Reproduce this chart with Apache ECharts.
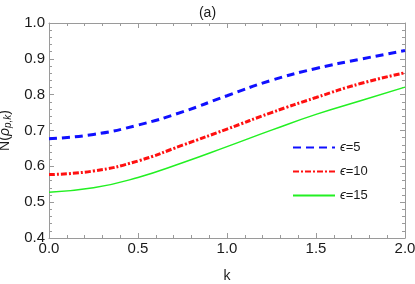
<!DOCTYPE html>
<html><head><meta charset="utf-8">
<script src="https://cdn.jsdelivr.net/npm/echarts@6/dist/echarts.min.js"></script>
<style>html,body{margin:0;padding:0;background:#fff}#c{width:415px;height:284px}</style>
</head><body><div id="c"></div>
<script>
var kValues = [0, 0.25, 0.5, 0.75, 1.0, 1.25, 1.5, 1.75, 2.0];
var eps5 = [0.677, 0.689, 0.715, 0.752, 0.797, 0.840, 0.873, 0.899, 0.923];
var eps10 = [0.577, 0.587, 0.615, 0.659, 0.704, 0.750, 0.792, 0.831, 0.861];
var eps15 = [0.528, 0.540, 0.569, 0.610, 0.655, 0.701, 0.745, 0.783, 0.821];
var seriesNames = ['\u03f5=5', '\u03f5=10', '\u03f5=15'];

function pairs(arr){ return kValues.map(function(k,i){ return [k, arr[i]]; }); }

var frame = '#9a9a9a';
var font = 'Liberation Sans, Arial, sans-serif';
var txt = '#1a1a1a';
function xAxisCfg(pos, show){
  return {type:'value', position:pos, min:0, max:2, interval:0.5,
    axisLine:{show:true, onZero:false, lineStyle:{color:frame, width:1}},
    axisTick:{show:true, inside:true, length:5, lineStyle:{color:frame}},
    minorTick:{show:true, splitNumber:5, length:3, lineStyle:{color:frame}},
    splitLine:{show:false},
    axisLabel:{show:show, color:txt, fontSize:15, fontFamily:font, margin:3,
      formatter:function(v){return v.toFixed(1);}},
    name: show ? 'k' : '', nameLocation:'middle', nameGap:31,
    nameTextStyle:{color:txt, fontSize:14, fontFamily:font}};
}
function yAxisCfg(pos, show){
  return {type:'value', position:pos, min:0.4, max:1.0, interval:0.1,
    axisLine:{show:true, onZero:false, lineStyle:{color:frame, width:1}},
    axisTick:{show:true, inside:true, length:5, lineStyle:{color:frame}},
    minorTick:{show:true, splitNumber:5, length:3, lineStyle:{color:frame}},
    splitLine:{show:false},
    axisLabel:{show:show, color:txt, fontSize:15, fontFamily:font, margin:4,
      formatter:function(v){return v.toFixed(1);}},
    name: show ? '{a|N(}{i|\u03c1}{s|p,k}{a|)}' : '', nameLocation:'middle', nameGap:34,
    nameTextStyle:{color:txt, fontSize:14, fontFamily:font,
      rich:{a:{fontSize:14, fontFamily:font, color:txt},
            i:{fontSize:14, fontFamily:font, fontStyle:'italic', color:txt},
            s:{fontSize:10, fontFamily:font, fontStyle:'italic', color:txt, verticalAlign:'bottom', padding:[7,0,0,0]}}}};
}

var chart = echarts.init(document.getElementById('c'), null, {renderer:'canvas'});
chart.setOption({
  animation:false,
  backgroundColor:'#fff',
  title:{text:'(a)', left:'center', top:1, textStyle:{fontSize:14, fontWeight:'normal', color:txt, fontFamily:font}},
  grid:{left:49, right:10, top:23, bottom:46, outerBoundsMode:'none', containLabel:false},
  xAxis:[xAxisCfg('bottom', true), xAxisCfg('top', false)],
  yAxis:[yAxisCfg('left', true), yAxisCfg('right', false)],
  legend:{orient:'vertical', left:292, top:141, padding:0, itemWidth:42, itemHeight:14, itemGap:11, itemTextGap:12,
    itemStyle:{opacity:0},
    formatter:function(n){ return '{e|\u03f5}{t|' + n.slice(1) + '}'; },
    textStyle:{fontSize:13, fontFamily:font, color:txt,
      rich:{e:{fontSize:13, fontFamily:font, fontStyle:'italic', color:txt},
            t:{fontSize:13, fontFamily:font, color:txt}}},
    data:seriesNames},
  series:[
    {name:seriesNames[0], type:'line', smooth:true, showSymbol:false, symbol:'none', data:pairs(eps5),
      lineStyle:{color:'#1010ff', width:3, type:[8,5]}, itemStyle:{color:'#1010ff'}},
    {name:seriesNames[1], type:'line', smooth:true, showSymbol:false, symbol:'none', data:pairs(eps10),
      lineStyle:{color:'#ff1010', width:3, type:[6,2,2,2]}, itemStyle:{color:'#ff1010'}},
    {name:seriesNames[2], type:'line', smooth:true, showSymbol:false, symbol:'none', data:pairs(eps15),
      lineStyle:{color:'#22f022', width:1.5}, itemStyle:{color:'#22f022'}}
  ]
});
</script></body></html>
